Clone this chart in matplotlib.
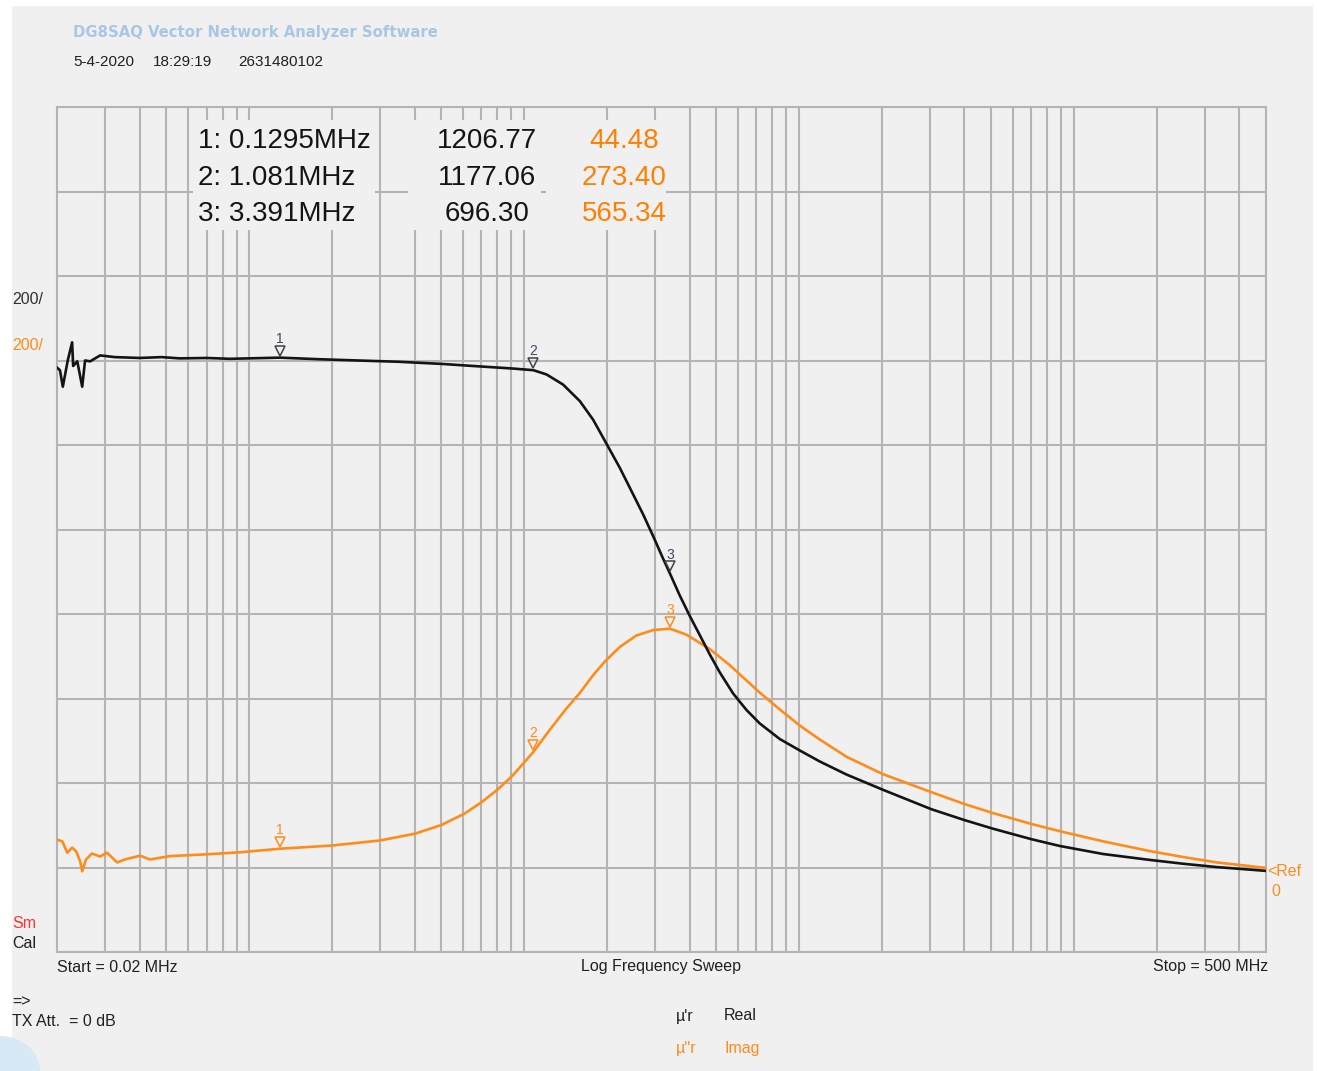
import matplotlib
matplotlib.use("Agg")
import matplotlib.pyplot as plt
import matplotlib.transforms as mtransforms
from matplotlib.patches import Rectangle, Ellipse
import numpy as np

# ---------------- data ----------------
real_freq = [0.02, 0.0205, 0.0210, 0.0219, 0.0227, 0.0229, 0.0237, 0.0247, 0.0253, 0.0264,
             0.0287, 0.0325, 0.040, 0.048, 0.056, 0.07, 0.085, 0.1295, 0.18, 0.25,
             0.35, 0.5, 0.69, 0.91, 1.081, 1.207, 1.387, 1.595, 1.783, 1.995,
             2.23, 2.42, 2.71, 2.95, 3.20, 3.391, 3.69, 4.01, 4.48, 4.74,
             5.15, 5.76, 6.44, 7.2, 8.52, 10.07, 11.9, 14.9, 20.2, 30.3,
             40.1, 50.7, 70.1, 88.8, 127.6, 188.6, 249, 331, 500]
real_vals = [1183, 1177, 1138, 1201, 1243, 1187, 1198, 1138, 1200, 1198,
             1212, 1208, 1206, 1208, 1205, 1206, 1204, 1206.77, 1203, 1200,
             1197, 1192, 1186, 1181, 1177.06, 1167, 1143, 1104, 1060, 1003,
             946, 900, 836, 784, 732, 696.30, 643, 595, 535, 504,
             462, 412, 373, 341, 304, 277, 251, 220, 184, 138,
             112, 92, 67, 51, 32, 18, 9, 1, -8]

imag_freq = [0.02, 0.0209, 0.0218, 0.0227, 0.0235, 0.0243, 0.0247, 0.0255, 0.0268, 0.0287,
             0.0304, 0.0331, 0.0353, 0.0401, 0.0436, 0.0515, 0.0691, 0.0926, 0.1295, 0.2,
             0.299, 0.401, 0.502, 0.609, 0.702, 0.803, 0.910, 1.081, 1.241, 1.408,
             1.595, 1.783, 1.97, 2.23, 2.56, 2.95, 3.391, 3.90, 4.74, 5.6,
             7.2, 8.52, 10.07, 11.9, 14.9, 20.2, 30.4, 40.1, 50.7, 70.1,
             88.8, 127.6, 188.6, 249, 331, 500]
imag_vals = [66, 62, 35, 47, 38, 14, -9, 19, 33, 26,
             35, 12, 19, 28, 19, 27, 31, 36, 44.48, 52,
             64, 80, 101, 128, 155, 185, 218, 273.40, 326, 372,
             413, 455, 488, 522, 549, 562, 565.34, 551, 517, 479,
             414, 374, 336, 303, 262, 221, 178, 150, 129, 103,
             86, 62, 39, 25, 12, -1]

marker_ids = ["1", "2", "3"]
marker_freq = [0.1295, 1.081, 3.391]
marker_real = [1206.77, 1177.06, 696.30]
marker_imag = [44.48, 273.40, 565.34]
marker_freq_labels = ["0.1295MHz", "1.081MHz", "3.391MHz"]

# ---------------- style ----------------
W, H = 1317, 1071
BG = "#f0f0f0"
GRID = "#b4b4b4"
BLACK = "#141414"
ORANGE = "#ff8c1a"
ORANGE_TXT = "#ff8000"

fig = plt.figure(figsize=(W / 100, H / 100), dpi=100, facecolor="white")
fig.patches.append(Rectangle((12 / W, 0), (1313 - 12) / W, 1 - 6 / H,
                             transform=fig.transFigure, facecolor=BG,
                             edgecolor="none", zorder=-10))
fig.patches.append(Ellipse((0 / W, 0 / H), 80 / W, 70 / H, transform=fig.transFigure,
                           facecolor="#d6e9f5", edgecolor="none", zorder=-9))


def fx(x):
    return x / W


def fy(y):
    return 1 - y / H


ax = fig.add_axes([fx(57), fy(952), (1266 - 57) / W, (952 - 107) / H])
ax.set_facecolor(BG)
ax.set_xscale("log")
ax.set_xlim(0.02, 500)
ax.set_ylim(-200, 1800)

# grid
for dec in [0.01, 0.1, 1, 10, 100]:
    for m in range(1, 10):
        v = dec * m
        if 0.02 < v < 500:
            ax.axvline(v, color=GRID, lw=1.5, zorder=0)
for yv in np.arange(-200, 1801, 200):
    ax.axhline(yv, color=GRID, lw=1.5, zorder=0)
for s in ax.spines.values():
    s.set_color(GRID)
    s.set_linewidth(1.5)
ax.set_xticks([])
ax.set_yticks([])
ax.minorticks_off()
ax.tick_params(which="both", length=0)
ax.xaxis.set_minor_locator(matplotlib.ticker.NullLocator())

ax.plot(imag_freq, imag_vals, color=ORANGE, lw=1.9, zorder=3, solid_joinstyle="round")
ax.plot(real_freq, real_vals, color=BLACK, lw=1.9, zorder=4, solid_joinstyle="round")

# markers
tri_off = mtransforms.offset_copy(ax.transData, fig=fig, x=0, y=5, units="points")
for mid, f, r, im in zip(marker_ids, marker_freq, marker_real, marker_imag):
    ax.plot([f], [r], marker="v", ms=7.5, mfc="none", mec="#404048", mew=1.1,
            transform=tri_off, zorder=6)
    ax.annotate(mid, (f, r), xytext=(0, 13.5), textcoords="offset points",
                ha="center", va="center", fontsize=10, color="#404860",
                family="Liberation Sans", zorder=6)
    ax.plot([f], [im], marker="v", ms=7.5, mfc="none", mec=ORANGE, mew=1.1,
            transform=tri_off, zorder=6)
    ax.annotate(mid, (f, im), xytext=(0, 13.5), textcoords="offset points",
                ha="center", va="center", fontsize=10, color=ORANGE,
                family="Liberation Sans", zorder=6)

# ---------------- texts ----------------
fig.text(fx(73), fy(32), "DG8SAQ Vector Network Analyzer Software", fontsize=10.75,
         fontweight="bold", color="#a9c6e4", va="center", ha="left",
         family="DejaVu Sans")
hdr = dict(fontsize=11, color="#202020", va="center", ha="left", family="Liberation Sans")
fig.text(fx(73), fy(62), "5-4-2020", **hdr)
fig.text(fx(153), fy(62), "18:29:19", **hdr)
fig.text(fx(238), fy(62), "2631480102", **hdr)

# marker table background blocks (hide the grid like the original)
for x0, x1 in [(193, 375), (408, 541), (546, 666)]:
    fig.patches.append(Rectangle((fx(x0), fy(230)), (x1 - x0) / W, (230 - 120) / H,
                                 transform=fig.transFigure, facecolor=BG,
                                 edgecolor="none", zorder=5))

row_y = [141, 178, 214]
tbl = dict(fontsize=20, va="center", family="Liberation Sans", zorder=10)
for i, (mid, lab, r, im) in enumerate(zip(marker_ids, marker_freq_labels,
                                           marker_real, marker_imag)):
    fig.text(fx(198), fy(row_y[i]), f"{mid}: {lab}", color="#141414", ha="left", **tbl)
    fig.text(fx(487), fy(row_y[i]), f"{r:.2f}", color="#141414", ha="center", **tbl)
    fig.text(fx(624), fy(row_y[i]), f"{im:.2f}", color=ORANGE_TXT, ha="center", **tbl)

small = dict(fontsize=11.5, family="Liberation Sans", va="center")
fig.text(fx(12), fy(300), "200/", color="#303030", ha="left", **small)
fig.text(fx(12), fy(345), "200/", color=ORANGE, ha="left", **small)
fig.text(fx(12), fy(923), "Sm", color="#ff3030", ha="left", **small)
fig.text(fx(12), fy(943), "Cal", color="#202020", ha="left", **small)
fig.text(fx(57), fy(967), "Start = 0.02 MHz", color="#202020", ha="left", **small)
fig.text(fx(661), fy(967), "Log Frequency Sweep", color="#202020", ha="center", **small)
fig.text(fx(1268), fy(967), "Stop = 500 MHz", color="#202020", ha="right", **small)
fig.text(fx(12), fy(1002), "=>", color="#202020", ha="left", **small)
fig.text(fx(12), fy(1021), "TX Att.  = 0 dB", color="#202020", ha="left", **small)
fig.text(fx(676), fy(1016), "µ'r", color="#202020", ha="left", **small)
fig.text(fx(724), fy(1016), "Real", color="#202020", ha="left", **small)
fig.text(fx(676), fy(1048), "µ''r", color=ORANGE, ha="left", **small)
fig.text(fx(724), fy(1048), "Imag", color=ORANGE, ha="left", **small)
fig.text(fx(1267), fy(872), "<Ref", color=ORANGE, ha="left", **small)
fig.text(fx(1271), fy(892), "0", color=ORANGE, ha="left", **small)

fig.savefig("out.png", dpi=100, facecolor="white")
